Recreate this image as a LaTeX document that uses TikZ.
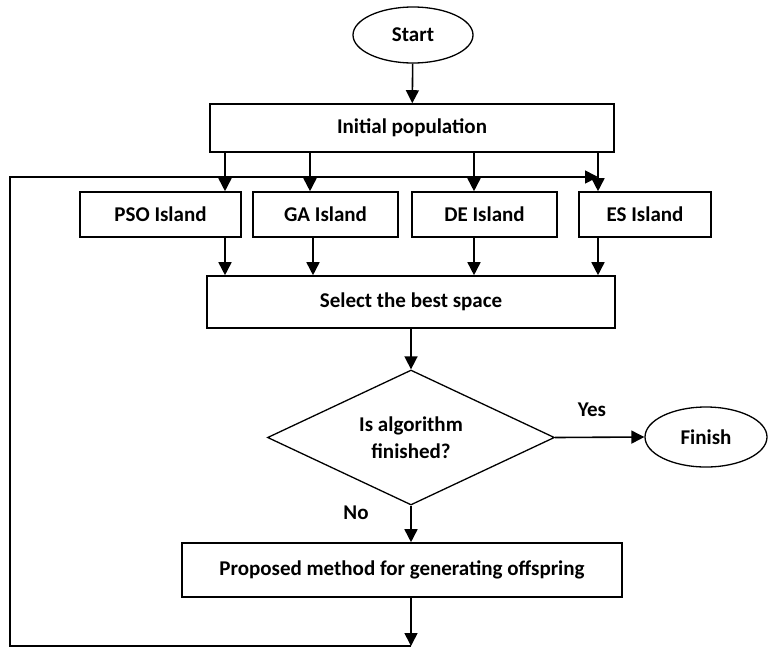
\documentclass[tikz,border=0pt]{standalone}
\usepackage{fontspec}
\setmainfont{Carlito}
\usetikzlibrary{shapes.geometric}
\usetikzlibrary{arrows.meta}

\tikzset{
  box/.style={draw, line width=1.6pt, inner sep=0pt, font=\bfseries\fontsize{21}{27}\selectfont},
  term/.style={ellipse, draw, line width=1.3pt, inner sep=0pt, font=\bfseries\fontsize{21}{27}\selectfont},
  arr/.style={-{Triangle[length=13pt,width=13pt]}, line width=1.6pt},
  lbl/.style={inner sep=0pt, font=\bfseries\fontsize{21}{24}\selectfont}
}

\begin{document}
\begin{tikzpicture}[x=1pt, y=-1pt]
\useasboundingbox (0,0) rectangle (783,648);

\node[term, minimum width=120pt, minimum height=56pt] (start) at (413,35) {Start};
\node[box, minimum width=404pt, minimum height=48pt] (init) at (412,128) {Initial population};
\node[box, minimum width=161pt, minimum height=45pt] (pso) at (160.5,214.5) {PSO Island};
\node[box, minimum width=145pt, minimum height=45pt] (ga) at (325.5,214.5) {GA Island};
\node[box, minimum width=145pt, minimum height=45pt] (de) at (484.5,214.5) {DE Island};
\node[box, minimum width=132pt, minimum height=45pt] (es) at (645,214.5) {ES Island};
\node[box, minimum width=408pt, minimum height=52pt] (select) at (411,302) {Select the best space};
\node[diamond, draw, line width=1.3pt, inner sep=-25pt, minimum width=287pt, minimum height=135pt,
  align=center, font=\bfseries\fontsize{21}{27}\selectfont] (dec) at (411,437.5) {Is algorithm\\finished?};
\node[term, minimum width=122pt, minimum height=60pt] (finish) at (706,437) {Finish};
\node[box, minimum width=440pt, minimum height=54pt] (prop) at (402,570) {Proposed method for generating offspring};
\node[lbl] (yes) at (592,410) {Yes};
\node[lbl] (no) at (356,513) {No};

\coordinate (a1) at (225,0);
\coordinate (a2) at (310,0);
\coordinate (a3) at (474,0);
\coordinate (a4) at (598,0);
\coordinate (b2) at (313,0);
\coordinate (lb) at (411,646);
\coordinate (ll) at (10,646);
\coordinate (lt) at (10,177);
\coordinate (lr) at (598,177);

\draw[arr] (start) -- (init);
\foreach \c/\i in {a1/pso, a2/ga, a3/de, a4/es}
{\draw[arr] (init.south -| \c) -- (\i.north -| \c);}
\foreach \c/\i in {a1/pso, b2/ga, a3/de, a4/es}
{\draw[arr] (\i.south -| \c) -- (select.north -| \c);}
\draw[arr] (select.south -| dec) -- (dec.north);
\draw[arr] (dec.east) -- (finish.west);
\draw[arr] (dec.south) -- (prop.north -| dec);
\draw[arr] (prop.south -| lb) -- (lb);
\draw[arr] (lb) -- (ll) -- (lt) -- (lr);
\end{tikzpicture}
\end{document}
